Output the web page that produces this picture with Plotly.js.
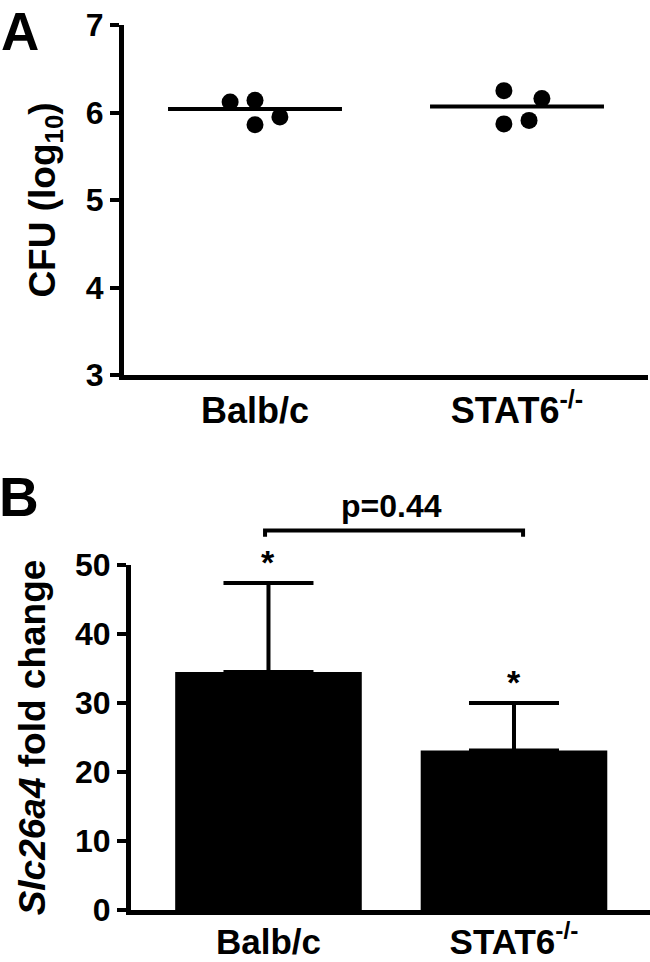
<!DOCTYPE html>
<html>
<head>
<meta charset="utf-8">
<script src="https://cdn.plot.ly/plotly-3.0.1.min.js"></script>
<style>html,body{margin:0;padding:0;background:#fff;}#chart{width:650px;height:962px;}</style>
</head>
<body>
<div id="chart"></div>
<script>
// ---- data ----
const groups = ['Balb/c', 'STAT6<sup>-/-</sup>'];
const cfuBalb = [6.12, 6.14, 5.86, 5.95];
const cfuStat6 = [6.25, 5.87, 5.91, 6.16];
const jitterBalb = [-0.095, 0, 0, 0.095];
const jitterStat6 = [-0.05, -0.05, 0.046, 0.095];
const cfuMeans = [6.04, 6.07];
const foldMeans = [34.5, 23.1];
const foldSEM = [12.9, 6.9];
const sigMarks = ['*', '*'];
const pLabel = 'p=0.44';

// ---- styles ----
const FONT = 'Liberation Sans, Arial, Helvetica, sans-serif';
const W = 650, H = 962;
const py = v => 1 - v / H;      // pixel row -> paper fraction
const px = v => v / W;
const meanHalf = 0.332;
const bracketY = [54.1, 55];

const domA = [py(375), py(25)];
const domB = [py(910), py(565)];
const domB3 = [py(910), py(470)];
const yB3top = 50 * (domB3[1] - domB3[0]) / (domB[1] - domB[0]);

const traces = [];
// Panel A points
traces.push({type: 'scatter', mode: 'markers', xaxis: 'x', yaxis: 'y',
  x: cfuBalb.map((v, i) => 0 + jitterBalb[i]), y: cfuBalb,
  marker: {color: '#000', size: 17}, hoverinfo: 'y'});
traces.push({type: 'scatter', mode: 'markers', xaxis: 'x', yaxis: 'y',
  x: cfuStat6.map((v, i) => 1 + jitterStat6[i]), y: cfuStat6,
  marker: {color: '#000', size: 17}, hoverinfo: 'y'});
// mean lines
cfuMeans.forEach((m, i) => {
  traces.push({type: 'scatter', mode: 'lines', xaxis: 'x', yaxis: 'y',
    x: [i - meanHalf, i + meanHalf], y: [m, m],
    line: {color: '#000', width: 4}, hoverinfo: 'skip'});
});
// Panel B bars
traces.push({type: 'bar', xaxis: 'x2', yaxis: 'y2',
  x: [0, 1], y: foldMeans, width: 0.76,
  marker: {color: '#000', line: {width: 0}},
  error_y: {type: 'data', symmetric: false, array: foldSEM, arrayminus: [0, 0],
    color: '#000', thickness: 4, width: 45}});
// bracket on overlay scale
traces.push({type: 'scatter', mode: 'lines', xaxis: 'x2', yaxis: 'y3',
  x: [-0.014, -0.014, 1.037, 1.037], y: [bracketY[0], bracketY[1], bracketY[1], bracketY[0]],
  line: {color: '#000', width: 4}, hoverinfo: 'skip'});

const tickFont = {family: FONT, size: 32, color: '#000', weight: 'bold'};
const catFont = {family: FONT, size: 36, color: '#000', weight: 'bold'};
const catFontB = {family: FONT, size: 35, color: '#000', weight: 'bold'};
const titleFont = {family: FONT, size: 37, color: '#000', weight: 'bold'};

const annotations = [
  {xref: 'paper', yref: 'paper', x: px(-1), y: py(0), xanchor: 'left', yanchor: 'top',
   text: 'A', showarrow: false, font: {family: FONT, size: 53, color: '#000', weight: 'bold'}},
  {xref: 'paper', yref: 'paper', x: px(-3), y: py(464), xanchor: 'left', yanchor: 'top',
   text: 'B', showarrow: false, font: {family: FONT, size: 55, color: '#000', weight: 'bold'}},
  {xref: 'x2', yref: 'y3', x: 0.5, y: 58.6, text: pLabel, showarrow: false,
   font: {family: FONT, size: 32, color: '#000', weight: 'bold'}},
];
[foldMeans[0] + foldSEM[0], foldMeans[1] + foldSEM[1]].forEach((top, i) => {
  annotations.push({xref: 'x2', yref: 'y3', x: i, y: top, yanchor: 'bottom', yshift: 0,
    text: sigMarks[i], showarrow: false,
    font: {family: FONT, size: 34, color: '#000', weight: 'bold'}});
});

const layout = {
  width: W, height: H, margin: {l: 0, r: 0, t: 0, b: 0},
  paper_bgcolor: '#fff', plot_bgcolor: 'rgba(0,0,0,0)', showlegend: false,
  xaxis: {domain: [px(124), px(648)], range: [-0.5, 1.5], anchor: 'y',
    tickvals: [0, 1], ticktext: groups, ticks: '', showgrid: false, zeroline: false,
    showline: true, linecolor: '#000', linewidth: 5, tickfont: catFont},
  yaxis: {domain: domA, range: [3, 7], anchor: 'x', dtick: 1, ticks: 'outside',
    ticklen: 9, tickwidth: 4, tickcolor: '#000', showgrid: false, zeroline: false,
    showline: true, linecolor: '#000', linewidth: 5, tickfont: tickFont,
    title: {text: 'CFU (log<sub>10</sub>)', font: titleFont, standoff: 20}},
  xaxis2: {domain: [px(131), 1], range: [-0.56, 1.554], anchor: 'y2',
    tickvals: [0, 1], ticktext: groups, ticks: '', showgrid: false, zeroline: false,
    showline: true, linecolor: '#000', linewidth: 5, tickfont: catFontB, ticklabelstandoff: -3},
  yaxis2: {domain: domB, range: [0, 50], anchor: 'x2', dtick: 10, ticks: 'outside',
    ticklen: 9, tickwidth: 4, tickcolor: '#000', showgrid: false, zeroline: false,
    showline: true, linecolor: '#000', linewidth: 5, tickfont: tickFont,
    title: {text: '<i>Slc26a4</i> fold change', font: titleFont, standoff: 20}},
  yaxis3: {domain: domB3, range: [0, yB3top], anchor: 'x2', visible: false,
    showgrid: false, zeroline: false},
  annotations: annotations,
};

Plotly.newPlot('chart', traces, layout, {displayModeBar: false, staticPlot: true});
</script>
</body>
</html>
